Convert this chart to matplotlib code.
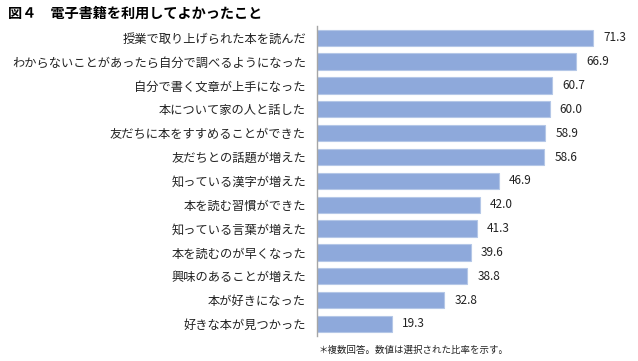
"""
図4 電子書籍を利用してよかったこと - horizontal bar chart
"""
import matplotlib
matplotlib.use("Agg")
from matplotlib import pyplot

pyplot.rcParams["font.family"] = ["Noto Sans CJK JP", "DejaVu Sans"]

labels = [
    "授業で取り上げられた本を読んだ",
    "わからないことがあったら自分で調べるようになった",
    "自分で書く文章が上手になった",
    "本について家の人と話した",
    "友だちに本をすすめることができた",
    "友だちとの話題が増えた",
    "知っている漢字が増えた",
    "本を読む習慣ができた",
    "知っている言葉が増えた",
    "本を読むのが早くなった",
    "興味のあることが増えた",
    "本が好きになった",
    "好きな本が見つかった",
]
values = [71.3, 66.9, 60.7, 60.0, 58.9, 58.6, 46.9, 42.0, 41.3, 39.6, 38.8, 32.8, 19.3]

fig = pyplot.figure(figsize=(6.38, 3.61), dpi=100)
ax = fig.add_axes([0.497, 0.0695, 0.486, 0.859])

pos = list(range(len(labels)))
ax.barh(pos, values, height=0.68, color="#8EA9DB", edgecolor="#B4C7E7", linewidth=0.8)
for p, v in zip(pos, values):
    ax.text(v + 2.6, p, f"{v:.1f}", va="center", ha="left", fontsize=8.5, color="#222222")

ax.set_xlim(0, 80)
ax.set_ylim(len(labels) - 0.5, -0.5)
ax.set_yticks(pos)
ax.set_yticklabels(labels, fontsize=8.8, color="#222222")
ax.tick_params(axis="y", length=0, pad=8)
ax.set_xticks([])
for side in ("top", "right", "bottom"):
    ax.spines[side].set_visible(False)
ax.spines["left"].set_color("#A6A6A6")
ax.spines["left"].set_linewidth(1.0)

fig.text(0.012, 0.962, "図４　電子書籍を利用してよかったこと", fontsize=10.2,
         fontweight="bold", va="center", ha="left")
fig.text(0.5, 0.03, "＊複数回答。数値は選択された比率を示す。", fontsize=6.8,
         va="center", ha="left", color="#222222")

fig.savefig("out.png", dpi=100)
pyplot.close(fig)
